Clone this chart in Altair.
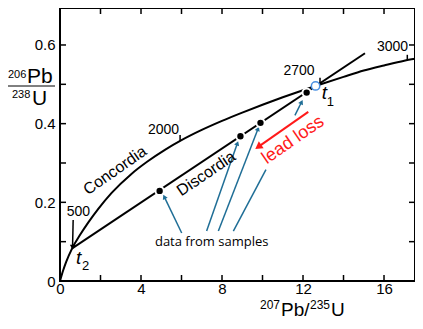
import math
import altair as alt
import pandas as pd

# ---------------- data ----------------
# Concordia curve (207Pb/235U, 206Pb/238U)
conc_x = [0, 0.15, 0.3, 0.6, 1.0, 1.4, 1.9, 2.55, 3.5, 4.3, 5.2, 6.0, 7.0, 8.0,
          9.0, 10.0, 11.0, 12.0, 12.8, 14.0, 15.0, 16.0, 17.0, 17.53]
conc_y = [0, 0.026, 0.048, 0.083, 0.118, 0.149, 0.184, 0.224, 0.271, 0.303,
          0.334, 0.358, 0.384, 0.407, 0.428, 0.448, 0.467, 0.485, 0.499,
          0.519, 0.535, 0.548, 0.560, 0.565]

# Discordia line end points (t2 -> beyond t1)
disc_x = [0.6, 15.06]
disc_y = [0.083, 0.579]

# Sample data points on the discordia
samp_x = [4.92, 8.91, 9.9, 12.18]
samp_y = [0.229, 0.368, 0.402, 0.479]

# t1 open circle
t1_x = [12.62]
t1_y = [0.496]

# Age tick marks on concordia
age_tick_x = [5.93, 12.84, 17.15]
age_tick_y = [0.356, 0.500, 0.561]
age_tick_y2 = [0.371, 0.517, 0.575]

# Age labels
age_labels = ["2000", "2700", "3000", "500"]
age_label_x = [5.11, 11.8, 16.42, 0.91]
age_label_y = [0.383, 0.535, 0.594, 0.176]

# 500 Ma arrow (tail -> head)
a500 = [(0.65, 0.155, 0.62, 0.086)]

# Blue arrows from "data from samples" (tail x, tail y, head x, head y, has head)
blue_arrows = [
    (6.01, 0.122, 5.15, 0.214, True),
    (7.24, 0.127, 8.76, 0.350, True),
    (7.82, 0.127, 9.78, 0.387, True),
    (8.56, 0.127, 10.17, 0.283, False),
    (11.60, 0.421, 11.93, 0.455, True),
]

# Red "lead loss" arrow
red_arrow = [(12.26, 0.430, 9.79, 0.341)]

# Tick positions
x_tick_labels = [0, 4, 8, 12, 16]
x_tick_marks = [2, 4, 6, 8, 10, 12, 14, 16]
y_tick_labels = [0, 0.2, 0.4, 0.6]
y_tick_marks = [0.1, 0.2, 0.3, 0.4, 0.5, 0.6]

# ---------------- layout ----------------
W, H = 355, 273
XMAX, YMAX = 17.53, 0.694
SX, SY = W / XMAX, H / YMAX
FONT = "Liberation Sans"
BLUE = "#1f6e96"
RED = "#ff1a1a"

xs = alt.Scale(domain=[0, XMAX], nice=False, zero=False)
ys = alt.Scale(domain=[0, YMAX], nice=False, zero=False)
xaxis = alt.Axis(values=x_tick_labels, format="~g", grid=False, ticks=False,
                 tickSize=0, domain=False, labelFontSize=15, labelFont=FONT,
                 labelColor="black", labelPadding=0, title=None, labelFlush=False)
yaxis = alt.Axis(values=y_tick_labels, format="~g", grid=False, ticks=False,
                 tickSize=0, domain=False, labelFontSize=15, labelFont=FONT,
                 labelColor="black", labelPadding=5, title=None)


def X(f):
    return alt.X(f, type="quantitative", scale=xs, axis=xaxis)


def Y(f):
    return alt.Y(f, type="quantitative", scale=ys, axis=yaxis)


def angle_of(x0, y0, x1, y1):
    dxs = (x1 - x0) * SX
    dys = -(y1 - y0) * SY
    return math.degrees(math.atan2(dxs, -dys)) % 360


layers = []

# frame ticks (inward)
bt = pd.DataFrame({"x": x_tick_marks})
layers.append(alt.Chart(bt).mark_rule(color="black", strokeWidth=1.5).encode(
    x=X("x"), y=alt.value(H), y2=alt.value(H - 6)))
layers.append(alt.Chart(bt).mark_rule(color="black", strokeWidth=1.5).encode(
    x=X("x"), y=alt.value(0), y2=alt.value(6)))
lt = pd.DataFrame({"y": y_tick_marks})
layers.append(alt.Chart(lt).mark_rule(color="black", strokeWidth=1.5).encode(
    y=Y("y"), x=alt.value(0), x2=alt.value(6)))
layers.append(alt.Chart(lt).mark_rule(color="black", strokeWidth=1.5).encode(
    y=Y("y"), x=alt.value(W), x2=alt.value(W - 6)))

# concordia
cdf = pd.DataFrame({"x": conc_x, "y": conc_y, "o": range(len(conc_x))})
layers.append(alt.Chart(cdf).mark_line(color="black", strokeWidth=2,
                                       interpolate="monotone").encode(
    x=X("x"), y=Y("y"), order="o:Q"))

# discordia
ddf = pd.DataFrame({"x": disc_x, "y": disc_y})
layers.append(alt.Chart(ddf).mark_line(color="black", strokeWidth=2).encode(
    x=X("x"), y=Y("y")))

# age ticks
atdf = pd.DataFrame({"x": age_tick_x, "y": age_tick_y, "y2": age_tick_y2})
layers.append(alt.Chart(atdf).mark_rule(color="black", strokeWidth=1.5).encode(
    x=X("x"), y=Y("y"), y2="y2"))


def arrow_layers(rows, color, width, head_size):
    out = []
    seg = pd.DataFrame([{"x": r[0], "y": r[1], "x2": r[2], "y2": r[3]} for r in rows])
    out.append(alt.Chart(seg).mark_rule(color=color, strokeWidth=width).encode(
        x=X("x"), y=Y("y"), x2="x2", y2="y2"))
    heads = pd.DataFrame([{"x": r[2], "y": r[3], "a": angle_of(*r[:4])}
                          for r in rows if (len(r) < 5 or r[4])])
    out.append(alt.Chart(heads).mark_point(shape="triangle-up", filled=True,
                                           color=color, size=head_size, opacity=1).encode(
        x=X("x"), y=Y("y"), angle=alt.Angle("a:Q", scale=None)))
    return out


layers += arrow_layers(a500, "black", 1.5, 30)
layers += arrow_layers(blue_arrows, BLUE, 1.5, 28)
layers += arrow_layers(red_arrow, RED, 2, 70)

# sample points
sdf = pd.DataFrame({"x": samp_x, "y": samp_y})
layers.append(alt.Chart(sdf).mark_point(filled=True, color="black", size=70,
                                        stroke="white", strokeWidth=2, opacity=1).encode(
    x=X("x"), y=Y("y")))

# t1 open circle
tdf = pd.DataFrame({"x": t1_x, "y": t1_y})
layers.append(alt.Chart(tdf).mark_point(shape="circle", filled=False, color="#4a90e2",
                                        size=70, strokeWidth=1.5, fill="white",
                                        opacity=1).encode(x=X("x"), y=Y("y")))

# text labels (centered)
lab = pd.DataFrame({
    "x": [2.72, 7.22, 11.51] + age_label_x,
    "y": [0.281, 0.273, 0.358] + age_label_y,
    "t": ["Concordia", "Discordia", "lead loss"] + age_labels,
    "a": [325, 326, 325.5, 0, 0, 0, 0],
    "s": [16, 16, 18, 14, 14, 14, 14],
    "c": ["black", "black", RED, "black", "black", "black", "black"],
})
layers.append(alt.Chart(lab).mark_text(font=FONT, align="center", baseline="middle").encode(
    x=X("x"), y=Y("y"), text="t:N", angle=alt.Angle("a:Q", scale=None),
    size=alt.Size("s:Q", scale=None), color=alt.Color("c:N", scale=None)))

samp_lab = pd.DataFrame({"x": [7.49], "y": [0.10], "t": ["data from samples"]})
layers.append(alt.Chart(samp_lab).mark_text(font="Open Sans", fontSize=13, color="black",
                                            align="center", baseline="middle").encode(
    x=X("x"), y=Y("y"), text="t:N"))

# t1, t2 labels
tl = pd.DataFrame({"x": [12.92, 0.79], "y": [0.463, 0.043], "t": ["t", "t"]})
layers.append(alt.Chart(tl).mark_text(font=FONT, fontSize=19, fontStyle="italic",
                                      color="black", align="left",
                                      baseline="alphabetic").encode(
    x=X("x"), y=Y("y"), text="t:N"))
ts = pd.DataFrame({"x": [13.17, 1.09], "y": [0.446, 0.028], "t": ["1", "2"]})
layers.append(alt.Chart(ts).mark_text(font=FONT, fontSize=13, color="black",
                                      align="left", baseline="alphabetic").encode(
    x=X("x"), y=Y("y"), text="t:N"))

# axis titles built from pieces (pixel positions relative to plot area)
one = pd.DataFrame({"d": [0]})


def txt(s, px, py, size):
    return alt.Chart(one).mark_text(text=s, font=FONT, fontSize=size, color="black",
                                    align="left", baseline="alphabetic").encode(
        x=alt.value(px), y=alt.value(py))


layers += [
    txt("206", -52, 70, 11), txt("Pb", -33, 75, 21),
    txt("238", -48, 90, 11), txt("U", -28, 97, 21),
    txt("207", 200, 301, 12), txt("Pb/", 221, 308, 19),
    txt("235", 250, 301, 12), txt("U", 271, 308, 19),
]
layers.append(alt.Chart(one).mark_rule(color="black", strokeWidth=1).encode(
    x=alt.value(-53), x2=alt.value(-5), y=alt.value(78)))

chart = alt.layer(*layers).properties(
    width=W, height=H,
    padding={"left": 52, "top": 0, "right": 0, "bottom": 40},
    autosize=alt.AutoSizeParams(type="none"),
).configure_view(stroke="black", strokeWidth=2)

chart.save("out.html", embed_options={"renderer": "svg", "actions": False})
